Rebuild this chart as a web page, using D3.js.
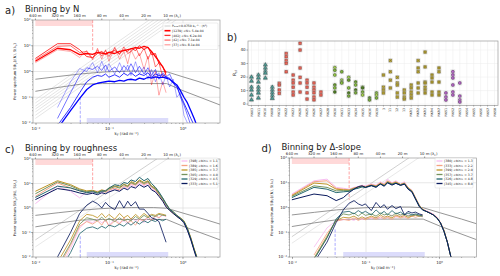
<!DOCTYPE html>
<html>
<head>
<meta charset="utf-8">
<title>Binned power spectra</title>
<script src="https://cdn.jsdelivr.net/npm/d3@7"></script>
<style>
  body { margin: 0; background: #fff; }
  text { font-family: "DejaVu Sans", sans-serif; fill: #222; }
</style>
</head>
<body>
<script>
// wavenumber grid shared by all spectra (rad/m)
var ky = [0.0098,0.0196,0.0295,0.0393,0.0491,0.0589,0.0687,0.0785,0.0884,0.0982,0.118,0.137,0.157,0.177,0.196,0.226,0.255,0.295,0.334,0.373,0.422,0.471,0.530,0.589,0.658,0.736,0.825,0.923,1.03,1.15,1.28,1.42,1.57];

var wavelengths = [640, 320, 160, 80, 40, 20, 10];
var yTicks = [0.01, 0.1, 1, 10, 100];
var yTickLabels = ["10\u207b\u00b2", "10\u207b\u00b9", "10\u2070", "10\u00b9", "10\u00b2"];
var xTicks = [0.01, 0.1, 1];
var xTickLabels = ["10\u207b\u00b2", "10\u207b\u00b9", "10\u2070"];

// model curves (same in every panel)
var modelAk = [0.0098, 0.02, 0.04, 0.07, 0.1, 0.2, 0.4, 0.6, 1.0, 2.0, 3.2];
var modelAv = [0.5, 0.64, 0.8, 0.92, 0.98, 1.04, 1.04, 0.98, 0.62, 0.34, 0.22];
var modelBk = [0.0098, 0.02, 0.04, 0.08, 0.6, 1.0, 3.2];
var modelBv = [0.17, 0.24, 0.32, 0.34, 0.34, 0.18, 0.05];

// k^2 reference lines: value at k=0.0098 and at k=1.0
var fanA = [[0.08, 833], [0.06, 625], [0.045, 469], [0.035, 364], [0.027, 281], [0.02, 208], [0.015, 156]];
var refC = [[0.05, 520], [0.026, 270]];
var refD = [[0.066, 690], [0.036, 375]];

// shaded k ranges
var bandHigh = [0.0098, 0.059];
var bandLow = [0.049, 0.63];

// panel a: binning by N
var labelsA = ["[1239] <N> 5.4e-04", "[402] <N> 6.2e-04", "[42] <N> 7.1e-04", "[37] <N> 8.1e-04"];
var upperA = [
  [2.5, 8, 7, 4.5, 5, 4.6, 5.5, 5.2, 4.8, 5.5, 5, 6, 6.5, 7, 7.5, 8.5, 8, 9.5, 8.5, 6, 3.8, 2.5, 1.5, 0.9],
  [3.2, 12, 12, 7, 3.8, 3.5, 5, 6, 4.5, 5.5, 6.5, 5, 7, 6, 8, 6.5, 10, 7, 9, 4.5, 5, 2, 1.6, 0.7],
  [2.8, 9.5, 10, 5.5, 6, 3.2, 7, 4, 6.5, 3.8, 8, 4.5, 9, 5, 6, 9, 4, 8, 3, 6, 1.5, 2.2, 0.6, 0.9],
  [2.2, 7, 6, 3.5, 6.5, 2.8, 8, 3, 7, 2.5, 9, 3, 6, 2, 7, 3, 5, 1.2, 4, 0.3, 1, 0.12, 0.4, 0.15]
];
var lowerA = [
  [null, 0.006, 0.03, 0.09, 0.2, 0.3, 0.35, 0.38, 0.4, 0.42, 0.4, 0.45, 0.42, 0.48, 0.5, 0.46, 0.55, 0.5, 0.6, 0.55, 0.62, 0.58, 0.6, 0.55, 0.5, 0.38, 0.3, 0.18, 0.1, 0.06, 0.03, 0.015, 0.007],
  [null, 0.008, 0.04, 0.15, 0.4, 0.6, 0.7, 0.65, 0.8, 0.6, 0.75, 0.6, 0.85, 0.7, 0.9, 0.65, 0.8, 0.7, 0.9, 0.6, 0.8, 0.7, 0.75, 0.6, 0.55, 0.35, 0.25, 0.12, 0.06, 0.03, 0.015, 0.008],
  [null, 0.015, 0.15, 0.7, 1.4, 1.2, 1.6, 1.1, 1.8, 1.0, 1.5, 0.9, 1.7, 1.1, 2.0, 0.9, 1.6, 0.8, 1.4, 0.7, 1.2, 0.5, 0.9, 0.6, 0.8, 0.4, 0.3, 0.1, 0.05, 0.02, 0.008],
  [null, 0.04, 0.4, 1.3, 1.0, 2.2, 0.9, 2.5, 1.0, 2.0, 0.8, 2.2, 0.9, 1.8, 0.7, 2.4, 0.8, 1.5, 0.5, 1.2, 0.4, 0.9, 0.3, 0.7, 0.25, 0.5, 0.1, 0.15, 0.02, 0.01]
];

// panel c: binning by roughness (pink, salmon, gold, green, teal, navy)
var labelsC = ["[398] <bin> = 1.1", "[389] <bin> = 1.6", "[385] <bin> = 3.7", "[305] <bin> = 4.0", "[329] <bin> = 4.5", "[333] <bin> = 5.1"];
var upperC = [
  [1.5, 7.8, 4.8, 2.6, 4.8, 4.2, 5, 3.8, 5.5, 4.5, 6, 5, 7.5, 6, 9, 7, 11, 8, 10, 6, 5, 3.2, 2.2, 1.2, 0.9, 0.6, 0.5, 0.35, 0.25, 0.12, 0.05, 0.018, 0.007],
  [3, 10.5, 6.6, 5, 4.5, 4.8, 4.2, 5, 4.4, 5.5, 6.5, 5.5, 8, 7, 10, 8.5, 12, 9, 11, 7, 5.5, 3.5, 2, 1.3, 0.8, 0.6, 0.45, 0.35, 0.28, 0.14, 0.06, 0.02, 0.008],
  [4.8, 13, 9, 6, 5, 5.3, 4.6, 5.5, 5, 6.5, 8, 7, 9.5, 8, 12, 10, 14, 11, 13, 8, 6.5, 4, 2.5, 1.5, 0.9, 0.7, 0.5, 0.4, 0.3, 0.15, 0.06, 0.022, 0.009],
  [3.8, 11.7, 8, 5.5, 4.6, 5, 4.3, 5.2, 4.8, 6, 7.5, 6.5, 9, 7.5, 11, 9, 13, 10, 12, 7.5, 6, 3.8, 2.3, 1.4, 0.85, 0.65, 0.48, 0.38, 0.28, 0.14, 0.055, 0.02, 0.008],
  [2.7, 7.8, 6.6, 5, 4.2, 4.6, 4, 4.8, 5, 6.5, 9, 8, 11, 10, 14, 12, 18, 13, 16, 10, 7, 4.5, 2.6, 1.5, 0.9, 0.7, 0.5, 0.38, 0.28, 0.14, 0.055, 0.02, 0.008],
  [2.2, 6.2, 5.2, 4.1, 3.6, 4, 3.5, 4.2, 3.8, 4.5, 5.5, 4.8, 6.5, 5.5, 7.5, 6.5, 9, 7, 8.5, 5.5, 4.5, 3, 1.9, 1.1, 0.8, 0.6, 0.45, 0.35, 0.25, 0.12, 0.05, 0.018, 0.007]
];
var lowerC = [
  [null, 0.002, 0.022, 0.15, 0.3, 0.25, 0.35, 0.25, 0.3, 0.2, 0.35, 0.25, 0.3, 0.22, 0.4, 0.3, 0.35, 0.25, 0.4, 0.35, 0.45, 0.4, 0.5, 0.45],
  [null, 0.003, 0.03, 0.18, 0.28, 0.22, 0.3, 0.2, 0.35, 0.18, 0.3, 0.22, 0.4, 0.25, 0.3, 0.2, 0.35, 0.3, 0.45, 0.3, 0.5, 0.4, 0.55, 0.45],
  [null, 0.006, 0.05, 0.3, 0.55, 0.5, 0.4, 0.6, 0.4, 0.55, 0.35, 0.6, 0.4, 0.5, 0.35, 0.55, 0.4, 0.6, 0.45, 0.55, 0.5, 0.6, 0.55, 0.5],
  [null, 0.004, 0.035, 0.22, 0.4, 0.35, 0.3, 0.42, 0.3, 0.38, 0.28, 0.4, 0.3, 0.35, 0.3, 0.45, 0.35, 0.5, 0.4, 0.5, 0.45, 0.55, 0.5, 0.5],
  [null, 0.002, 0.015, 0.09, 0.15, 0.17, 0.14, 0.18, 0.15, 0.2, 0.17, 0.22, 0.18, 0.25, 0.2, 0.28, 0.22, 0.3, 0.25, 0.32, 0.28, 0.35, 0.3, 0.35],
  [null, 0.01, 0.1, 0.6, 1.3, 1.9, 1.5, 1.0, 1.7, 1.2, 0.85, 2.0, 1.0, 1.9, 1.2, 1.8, 0.9, 0.9, 0.6, 0.4, 0.35, 0.28, 0.1, 0.04]
];

// panel d: binning by delta-slope
var labelsD = ["[380] <bin> = 1.3", "[333] <bin> = 2.2", "[399] <bin> = 2.9", "[357] <bin> = 3.7", "[326] <bin> = 4.8", "[345] <bin> = 8.0"];
var upperD = [
  [3.5, 12, 14, 6.5, 6, 5.5, 6.5, 7, 8, 7.5, 9, 8, 11, 9, 14, 10, 12, 9, 11, 6.5, 5, 2.5, 1.3, 0.85, 0.75, 0.65, 0.55, 0.4, 0.25, 0.12, 0.04, 0.011, 0.005],
  [3.2, 11, 12, 5.9, 5.5, 5.2, 6.2, 6.8, 7.5, 7, 8.5, 7.5, 10, 8.5, 12, 9.5, 11, 8.5, 10, 6.5, 4.8, 2.5, 1.25, 0.85, 0.72, 0.62, 0.52, 0.4, 0.25, 0.12, 0.04, 0.011, 0.005],
  [3, 9.7, 8.8, 5.5, 5.2, 5, 6, 6.5, 7.2, 6.8, 8, 7.2, 9.5, 8, 11, 9, 10.5, 8.5, 9.5, 6.2, 4.6, 2.4, 1.2, 0.85, 0.7, 0.6, 0.5, 0.38, 0.24, 0.12, 0.04, 0.011, 0.005],
  [2.8, 7.5, 6.5, 4.7, 4.8, 4.8, 5.8, 6.3, 7, 6.6, 7.8, 7, 9, 7.8, 10.5, 8.8, 10, 8.2, 9.2, 6, 4.5, 2.3, 1.2, 0.82, 0.7, 0.6, 0.5, 0.38, 0.24, 0.11, 0.04, 0.011, 0.005],
  [2.5, 6.5, 5.5, 4, 4.3, 4.5, 5.5, 6, 6.8, 6.4, 7.5, 6.8, 8.8, 7.5, 10, 8.5, 9.5, 8, 9, 5.8, 4.4, 2.3, 1.15, 0.8, 0.7, 0.6, 0.5, 0.38, 0.24, 0.11, 0.04, 0.011, 0.005],
  [2.05, 3.5, 3, 1.9, 2.5, 4, 5.5, 7, 7.5, 6.5, 7.8, 6.5, 9, 7.2, 10, 8, 9.5, 7.8, 8.8, 5.5, 4.2, 2.2, 1.1, 0.8, 0.7, 0.6, 0.5, 0.38, 0.24, 0.11, 0.04, 0.011, 0.005]
];
var lowerD = [
  [null, 0.025, 0.15, 0.3, 0.32, 0.35, 0.3, 0.38, 0.32, 0.4, 0.35, 0.42, 0.35, 0.45, 0.38, 0.5, 0.4, 0.48, 0.4, 0.5, 0.45, 0.5, 0.48, 0.5],
  [null, 0.012, 0.09, 0.28, 0.33, 0.3, 0.38, 0.3, 0.36, 0.32, 0.4, 0.33, 0.42, 0.35, 0.4, 0.33, 0.45, 0.38, 0.42, 0.36, 0.45, 0.4, 0.45, 0.42],
  [null, 0.009, 0.07, 0.3, 0.4, 0.38, 0.45, 0.35, 0.42, 0.36, 0.45, 0.38, 0.5, 0.4, 0.45, 0.38, 0.5, 0.42, 0.48, 0.4, 0.45, 0.5, 0.45, 0.5],
  [null, 0.008, 0.06, 0.32, 0.55, 0.5, 0.6, 0.45, 0.6, 0.48, 0.55, 0.45, 0.6, 0.5, 0.55, 0.45, 0.6, 0.5, 0.55, 0.45, 0.5, 0.5, 0.45, 0.45],
  [null, 0.008, 0.06, 0.35, 0.65, 0.7, 0.55, 0.75, 0.6, 0.7, 0.5, 0.8, 0.55, 0.7, 0.5, 0.75, 0.55, 0.65, 0.5, 0.6, 0.5, 0.55, 0.5, 0.45],
  [null, 0.006, 0.04, 0.25, 0.8, 1.5, 1.9, 1.4, 1.2, 1.4, 0.75, 1.6, 1.0, 1.3, 0.85, 1.2, 0.9, 1.1, 0.5, 0.7, 0.6, 0.65, 0.55, 0.5]
];

// panel b: ratio per site
var sites = ["NK03","NK11","NK10","NK08","NK12","NK22","NK23","NK20","NK25","NK26","NK27","NK28","NK30","NK31","NK33","NK34","NK35","NK36","NK39","3","11","12","13","NKR1","NKR2","NKR3","NKR4","NKR7","NKS1","NKS2","NKS3","NKS4","NKS5","NKS6","NKS7","NKS8"];
var siteGroup = ["tri","tri","tri","tri","sq","sq","sq","sq","sq","sq","sq","sq","ci","ci","ci","ci","ci","ci","ci","sx","sx","sx","sx","sx","sx","sx","sx","sx","pu","pu","pu","","","","",""];
var ratioVals = [
  [20, 17, 12.5, 10.4, 6.7, 3.1], [21.5, 19.3, 16.3, 12.5, 10.4, 8.2, 4.5], [29, 26.7, 24.5, 22.9, 19.3], [12.5, 10.4, 8.3, 6.2, 4.2],
  [15.4, 14.1, 10.4, 7.9], [37.4, 35, 32.2, 30.2, 23.9], [21.5, 17.7, 15.6, 12.5, 8.9, 6.7], [45, 40, 26.7, 19.8, 15.6, 8.9],
  [17.7, 15.6, 12.5, 8.3, 3.7], [15.6, 12.5, 10.4, 8.3, 5.2, 3.1], [8.9, 6.7], [],
  [27, 25, 21.5, 14.1, 11.9, 8.9], [23.9, 17.7, 16.3, 15.6], [19.8, 17.7, 11.9, 8.2, 5.9], [16.3, 14.1, 10.4, 8.3],
  [12.5, 11.9, 8.9, 6.7], [4.5, 3], [8.2, 6.7, 4.5],
  [21.5, 12.5, 10.4, 8.2], [32.2, 23.9, 17.7, 11.9], [19.8, 15.6, 14.1, 8.2, 5.2], [10.4, 8.2, 5.2, 3.7],
  [14.1, 11.9, 8.9, 6.7, 4.5], [32.2, 26.7, 23.9, 15.6, 11.9, 8.2], [38.5, 27.5, 16.3, 15.6, 12.5, 10.4, 8.2], [21.5, 19.3, 16.3, 8.9, 6.7], [26.7, 23.9, 16.3, 8.9, 6.7],
  [8.2, 5.2, 3], [23.9, 21.5, 19.3, 14.1, 8.9, 6.7], [15.6, 5.9, 3, 1.5],
  [], [], [], [], []
];
var ratioTicks = [0, 10, 20, 30, 40];

var batlow = ["#f7bdf0", "#f5a283", "#bf9526", "#74925c", "#256870", "#0b1b5e"];

var svg = d3.select("body").append("svg")
  .attr("width", 500).attr("height", 276);
svg.append("rect").attr("width", 500).attr("height", 276).attr("fill", "#fff");

function spectrumPanel(o) {
  var x = d3.scaleLog().domain([0.0091, 3.19]).range([o.left, o.right]);
  var y = d3.scaleLog().domain([0.01, 100]).range([o.bottom, o.top]);
  var g = svg.append("g");

  svg.append("clipPath").attr("id", "clip" + o.id).append("rect")
    .attr("x", o.left).attr("y", o.top)
    .attr("width", o.right - o.left).attr("height", o.bottom - o.top);
  var inner = g.append("g").attr("clip-path", "url(#clip" + o.id + ")");

  // grid
  [0.1, 1, 10].forEach(function(v) {
    inner.append("line").attr("x1", o.left).attr("x2", o.right)
      .attr("y1", y(v)).attr("y2", y(v)).attr("stroke", "#d6d6d6").attr("stroke-width", 0.6);
  });
  [0.1, 1].forEach(function(v) {
    inner.append("line").attr("y1", o.top).attr("y2", o.bottom)
      .attr("x1", x(v)).attr("x2", x(v)).attr("stroke", "#d6d6d6").attr("stroke-width", 0.6);
  });

  // shaded ranges
  inner.append("rect").attr("x", x(bandHigh[0])).attr("y", o.top)
    .attr("width", x(bandHigh[1]) - x(bandHigh[0])).attr("height", 6)
    .attr("fill", "#ffd9d9");
  inner.append("rect").attr("x", x(bandLow[0])).attr("y", o.bottom - 5)
    .attr("width", x(bandLow[1]) - x(bandLow[0])).attr("height", 5)
    .attr("fill", "#dcdcfb");
  inner.append("line").attr("x1", x(bandHigh[1])).attr("x2", x(bandHigh[1]))
    .attr("y1", o.top).attr("y2", y(o.pinkDash))
    .attr("stroke", "#ff9a9a").attr("stroke-width", 0.9).attr("stroke-dasharray", "3,1.5");
  inner.append("line").attr("x1", x(o.blueDashK)).attr("x2", x(o.blueDashK))
    .attr("y1", y(o.blueDash)).attr("y2", o.bottom)
    .attr("stroke", "#a0a0ff").attr("stroke-width", 0.9).attr("stroke-dasharray", "3,1.5");

  // k^2 reference lines
  o.refs.forEach(function(r, i) {
    inner.append("line").attr("x1", x(0.0098)).attr("y1", y(r[0]))
      .attr("x2", x(1.0)).attr("y2", y(r[1]))
      .attr("stroke", o.refColors[i] || o.refColors[0]).attr("stroke-width", 0.6);
  });

  var line = d3.line()
    .defined(function(d) { return d[1] != null; })
    .x(function(d) { return x(d[0]); })
    .y(function(d) { return y(d[1]); });

  // model curves
  [[modelAk, modelAv], [modelBk, modelBv]].forEach(function(m) {
    inner.append("path").datum(m[0].map(function(k, i) { return [k, m[1][i]]; }))
      .attr("d", line).attr("fill", "none").attr("stroke", "#8a8a8a").attr("stroke-width", 0.9);
  });

  // spectra
  o.series.forEach(function(s) {
    inner.append("path").datum(ky.map(function(k, i) { return [k, s.v[i]]; }))
      .attr("d", line).attr("fill", "none")
      .attr("stroke", s.color).attr("stroke-opacity", s.op)
      .attr("stroke-width", s.w).attr("stroke-linejoin", "round");
  });

  // frame
  g.append("rect").attr("x", o.left).attr("y", o.top)
    .attr("width", o.right - o.left).attr("height", o.bottom - o.top)
    .attr("fill", "none").attr("stroke", "#9a9a9a").attr("stroke-width", 0.7);

  // minor ticks
  var minors = [];
  [0.001, 0.01, 0.1, 1, 10].forEach(function(d) {
    for (var m = 2; m < 10; m++) minors.push(d * m);
  });
  minors.forEach(function(v) {
    if (v >= 0.0091 && v <= 3.19) {
      g.append("line").attr("x1", x(v)).attr("x2", x(v)).attr("y1", o.bottom).attr("y2", o.bottom + 1)
        .attr("stroke", "#555").attr("stroke-width", 0.4);
    }
    if (v >= 0.01 && v <= 100) {
      g.append("line").attr("x1", o.left - 1).attr("x2", o.left).attr("y1", y(v)).attr("y2", y(v))
        .attr("stroke", "#555").attr("stroke-width", 0.4);
    }
  });

  // major ticks and labels
  xTicks.forEach(function(v, i) {
    g.append("line").attr("x1", x(v)).attr("x2", x(v)).attr("y1", o.bottom).attr("y2", o.bottom + 1.8)
      .attr("stroke", "#444").attr("stroke-width", 0.5);
    g.append("text").attr("x", x(v)).attr("y", o.bottom + 6.5)
      .attr("text-anchor", "middle").attr("font-size", 4).text(xTickLabels[i]);
  });
  yTicks.forEach(function(v, i) {
    g.append("line").attr("x1", o.left - 1.8).attr("x2", o.left).attr("y1", y(v)).attr("y2", y(v))
      .attr("stroke", "#444").attr("stroke-width", 0.5);
    g.append("text").attr("x", o.left - 2.5).attr("y", y(v) + 1.4)
      .attr("text-anchor", "end").attr("font-size", 4).text(yTickLabels[i]);
  });

  // top axis: wavelengths
  wavelengths.forEach(function(l, i) {
    var xv = x(2 * Math.PI / l);
    g.append("line").attr("x1", xv).attr("x2", xv).attr("y1", o.top - 1.5).attr("y2", o.top)
      .attr("stroke", "#444").attr("stroke-width", 0.5);
    var t = g.append("text").attr("x", xv).attr("y", o.top - 3)
      .attr("text-anchor", i == wavelengths.length - 1 ? "start" : "middle")
      .attr("font-size", 3.8);
    if (i == wavelengths.length - 1) {
      t.attr("x", xv - 5).text(l + " m (\u03bb");
      t.append("tspan").attr("font-size", 2.8).attr("dy", 0.8).text("c");
      t.append("tspan").attr("dy", -0.8).text(")");
    } else {
      t.text(l + " m");
    }
  });

  // axis labels
  var xl = g.append("text").attr("x", (o.left + o.right) / 2).attr("y", o.bottom + 11.5)
    .attr("text-anchor", "middle").attr("font-size", 4).text("k");
  xl.append("tspan").attr("font-size", 3).attr("dy", 0.9).text("y");
  xl.append("tspan").attr("dy", -0.9).text("  (rad m\u207b\u00b9)");

  var yl = g.append("text")
    .attr("transform", "translate(" + (o.left - 17) + "," + ((o.top + o.bottom) / 2) + ") rotate(-90)")
    .attr("text-anchor", "middle").attr("font-size", 3.6).text("Power spectrum S(k");
  yl.append("tspan").attr("font-size", 2.7).attr("dy", 0.8).text("y");
  yl.append("tspan").attr("dy", -0.8).text(")/\u27e8N\u27e9, S(\u03bb");
  yl.append("tspan").attr("font-size", 2.7).attr("dy", 0.8).text("c");
  yl.append("tspan").attr("dy", -0.8).text(")");

  // panel letter and title
  g.append("text").attr("x", o.left - 28).attr("y", o.top - 6).attr("font-size", 10).text(o.letter);
  g.append("text").attr("x", o.left - 8).attr("y", o.top - 8).attr("font-size", 8.5).text(o.title);

  // legend
  var L = o.legend;
  g.append("rect").attr("x", L.x).attr("y", L.y).attr("width", L.w).attr("height", L.rows.length * L.dy + 3)
    .attr("fill", "#fff").attr("fill-opacity", 0.85).attr("stroke", "#d0d0d0").attr("stroke-width", 0.4).attr("rx", 1);
  L.rows.forEach(function(r, i) {
    var yy = L.y + 3 + i * L.dy;
    g.append("line").attr("x1", L.x + 1.5).attr("x2", L.x + 7.5).attr("y1", yy).attr("y2", yy)
      .attr("stroke", r.color).attr("stroke-opacity", r.op).attr("stroke-width", r.w + 0.3);
    g.append("text").attr("x", L.x + 9).attr("y", yy + 1.1).attr("font-size", 3.1).text(r.label);
  });
}

// panel a
var redOps = [1, 0.8, 0.6, 0.42], redW = [1.3, 1.0, 0.9, 0.8];
var seriesA = [];
lowerA.forEach(function(v, i) { seriesA.push({v: v, color: "#0000ff", op: redOps[i], w: redW[i]}); });
upperA.forEach(function(v, i) { seriesA.push({v: v, color: "#ff0000", op: redOps[i], w: redW[i]}); });
seriesA.reverse();
var legendA = [{label: "P\u2098\u2092\u2094=0.0750 k\u1d67\u207b\u00b9 \u00b7 \u27e8h\u00b2\u27e9", color: "#c8c8c8", op: 1, w: 0.6}];
labelsA.forEach(function(l, i) { legendA.push({label: l, color: "#ff0000", op: redOps[i], w: redW[i]}); });

spectrumPanel({
  id: "a", letter: "a)", title: "Binning by N",
  left: 33, right: 220, top: 20, bottom: 123,
  pinkDash: 6, blueDash: 0.1, blueDashK: 0.04,
  refs: fanA, refColors: ["#d4d4d4"],
  series: seriesA,
  legend: {x: 163, y: 23, w: 55, dy: 4.7, rows: legendA}
});

function batlowSeries(upper, lower) {
  var out = [];
  lower.forEach(function(v, i) { out.push({v: v, color: batlow[i], op: 1, w: 0.85}); });
  upper.forEach(function(v, i) { out.push({v: v, color: batlow[i], op: 1, w: 1.0}); });
  return out;
}
function batlowLegend(labels) {
  return labels.map(function(l, i) { return {label: l, color: batlow[i], op: 1, w: 1}; });
}

spectrumPanel({
  id: "c", letter: "c)", title: "Binning by roughness",
  left: 33, right: 220, top: 159, bottom: 257,
  pinkDash: 6, blueDash: 0.07, blueDashK: 0.04,
  refs: refC, refColors: ["#b0b0b0", "#d8d8d8"],
  series: batlowSeries(upperC, lowerC),
  legend: {x: 180, y: 158, w: 38, dy: 4.5, rows: batlowLegend(labelsC)}
});

spectrumPanel({
  id: "d", letter: "d)", title: "Binning by \u0394-slope",
  left: 289.5, right: 476.5, top: 158, bottom: 257,
  pinkDash: 2, blueDash: 0.13, blueDashK: 0.038,
  refs: refD, refColors: ["#b0b0b0", "#d8d8d8"],
  series: batlowSeries(upperD, lowerD),
  legend: {x: 435, y: 158, w: 38, dy: 4.5, rows: batlowLegend(labelsD)}
});

// panel b
(function() {
  var left = 248, right = 498, top = 41, bottom = 105.4;
  var x = d3.scalePoint().domain(sites).range([left, right]).padding(0.5);
  var y = d3.scaleLinear().domain([-1, 46.7]).range([bottom, top]);
  var g = svg.append("g");

  sites.forEach(function(s) {
    g.append("line").attr("x1", x(s)).attr("x2", x(s)).attr("y1", top).attr("y2", bottom)
      .attr("stroke", "#ededed").attr("stroke-width", 0.5);
  });
  ratioTicks.forEach(function(v) {
    g.append("line").attr("x1", left).attr("x2", right).attr("y1", y(v)).attr("y2", y(v))
      .attr("stroke", "#ededed").attr("stroke-width", 0.5);
    g.append("line").attr("x1", left - 1.5).attr("x2", left).attr("y1", y(v)).attr("y2", y(v))
      .attr("stroke", "#444").attr("stroke-width", 0.5);
    g.append("text").attr("x", left - 2.5).attr("y", y(v) + 1.4).attr("text-anchor", "end")
      .attr("font-size", 4).text(v);
  });
  g.append("rect").attr("x", left).attr("y", top).attr("width", right - left).attr("height", bottom - top)
    .attr("fill", "none").attr("stroke", "#9a9a9a").attr("stroke-width", 0.7);

  var styles = {
    tri: {type: d3.symbolTriangle, fill: "#4f9d97", stroke: "#1e3d3a"},
    sq: {type: d3.symbolSquare, fill: "#ee6a5c", stroke: "#7e2a22"},
    ci: {type: d3.symbolCircle, fill: "#9cc94a", stroke: "#2e4a12"},
    sx: {type: d3.symbolSquare, fill: "#e6d34b", stroke: "#5a4a10"},
    pu: {type: d3.symbolCircle, fill: "#b86ac8", stroke: "#4a1e55"}
  };
  var greenShades = ["#a8d050", "#7fb33e", "#9ccc4c", "#6a9a34", "#8bbf44", "#4d7a26", "#7aab3e"];

  sites.forEach(function(s, ci) {
    var st = styles[siteGroup[ci]];
    if (!st) return;
    ratioVals[ci].forEach(function(v, k) {
      var cx = x(s), cy = y(v);
      g.append("rect").attr("x", cx - 2.3).attr("y", cy - 2.3).attr("width", 4.6).attr("height", 4.6)
        .attr("fill", "#c4c4c4").attr("fill-opacity", 0.55);
      var fill = st.fill;
      if (siteGroup[ci] == "ci") fill = greenShades[(ci - 12 + k) % greenShades.length];
      g.append("path").attr("transform", "translate(" + cx + "," + cy + ")")
        .attr("d", d3.symbol().type(st.type).size(siteGroup[ci] == "tri" ? 7 : 6.5)())
        .attr("fill", fill).attr("stroke", st.stroke).attr("stroke-width", 0.45);
      if (siteGroup[ci] == "sx") {
        g.append("path").attr("d", "M" + (cx - 0.9) + "," + (cy - 0.9) + "L" + (cx + 0.9) + "," + (cy + 0.9) +
          "M" + (cx - 0.9) + "," + (cy + 0.9) + "L" + (cx + 0.9) + "," + (cy - 0.9))
          .attr("stroke", "#4a3a08").attr("stroke-width", 0.4);
      }
    });
  });

  sites.forEach(function(s) {
    g.append("line").attr("x1", x(s)).attr("x2", x(s)).attr("y1", bottom).attr("y2", bottom + 1.2)
      .attr("stroke", "#444").attr("stroke-width", 0.4);
    g.append("text").attr("transform", "translate(" + (x(s) + 1.1) + "," + (bottom + 2.5) + ") rotate(-90)")
      .attr("text-anchor", "end").attr("font-size", 3.2).text(s);
  });

  var yl = g.append("text")
    .attr("transform", "translate(" + (left - 12) + "," + ((top + bottom) / 2) + ") rotate(-90)")
    .attr("text-anchor", "middle").attr("font-size", 4.5).text("R");
  yl.append("tspan").attr("font-size", 3.2).attr("dy", 1).text("sl");

  g.append("text").attr("x", 227).attr("y", 41).attr("font-size", 10).text("b)");
})();
</script>
</body>
</html>
